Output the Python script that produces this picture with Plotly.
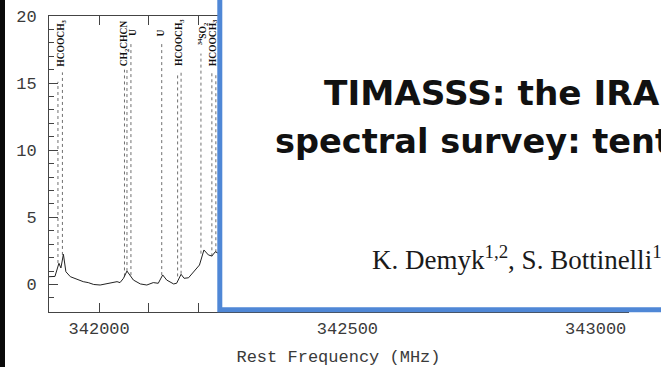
import plotly.graph_objects as go

# ---- data ----
freq = [341899, 341911, 341919, 341923, 341928, 341933, 341942, 341947, 341955,
        341968, 341978, 341989, 342002, 342016, 342029, 342036, 342042, 342049,
        342056, 342062, 342069, 342083, 342096, 342109, 342119, 342128, 342136,
        342150, 342156, 342165, 342171, 342180, 342190, 342202, 342211, 342220,
        342227, 342234, 342240, 342250]
intensity = [0.58, 0.60, 1.58, 1.23, 2.25, 0.95, 0.58, 0.50, 0.39,
             0.21, 0.14, 0.00, -0.04, 0.04, 0.14, 0.21, 0.14, 0.46,
             1.00, 0.70, 0.33, 0.04, -0.04, 0.14, 0.09, 0.71, 0.33,
             0.04, 0.09, 0.76, 0.46, 0.50, 0.95, 1.45, 2.57, 2.20,
             2.12, 2.44, 2.32, 2.30]

line_freqs = [341917, 341926, 342051, 342056, 342064, 342126, 342158, 342165, 342205, 342227, 342235]
line_tops = [15.1, 15.8, 16.0, 16.0, 18.0, 18.1, 15.8, 15.8, 17.2, 15.8, 15.8]
line_bottoms = [1.6, 2.2, 0.6, 1.0, 0.7, 0.7, 0.6, 0.8, 2.3, 2.1, 2.4]

label_texts = ["HCOOCH<sub>3</sub>", "CH<sub>2</sub>CHCN", "U", "U", "HCOOCH<sub>3</sub>",
               "<sup>34</sup>SO<sub>2</sub>", "HCOOCH<sub>3</sub>"]
label_freqs = [341925, 342050, 342068, 342125, 342163, 342207, 342230]
label_bases = [16.1, 16.1, 18.4, 18.3, 16.1, 17.7, 16.1]

x_tick_step = 500
y_tick_step = 5

title_line1 = "TIMASSS: the IRAS16293-2422 millimeter and submillimeter"
title_line2 = "spectral survey: tentative detection of deuterated methyl formate"
authors = "K. Demyk<sup>1,2</sup>, S. Bottinelli<sup>1</sup>, E. Caux<sup>1</sup>, C. Vastel<sup>1</sup>"
x_title = "Rest Frequency (MHz)"

# ---- figure ----
W, H = 661, 367
ML, MR, MT, MB = 49, 33, 16, 55
PW, PH = W - ML - MR, H - MT - MB


def px(xp):
    return (xp - ML) / PW


def py(yp):
    return (H - MB - yp) / PH


fig = go.Figure()

# dotted line markers
lx, ly = [], []
for f, t, b in zip(line_freqs, line_tops, line_bottoms):
    lx += [f, f, None]
    ly += [b, t, None]
fig.add_trace(go.Scatter(x=lx, y=ly, mode="lines",
                         line=dict(color="#707070", width=1, dash="dot"),
                         hoverinfo="skip", showlegend=False))

fig.add_trace(go.Scatter(x=freq, y=intensity, mode="lines",
                         line=dict(color="#222222", width=1),
                         showlegend=False))

for t, f, b in zip(label_texts, label_freqs, label_bases):
    fig.add_annotation(x=f, y=b, xref="x", yref="y", text=t, textangle=-90,
                       showarrow=False, xanchor="center", yanchor="bottom",
                       font=dict(family="Liberation Serif", size=9.5, color="#111111",
                                 weight="bold"))

axis_font = dict(family="Liberation Mono", size=17, color="#3a3a3a")

fig.update_xaxes(range=[341899, 343065], tick0=342000, dtick=x_tick_step,
                 tickformat="d", automargin=False,
                 ticks="inside", ticklen=9, tickcolor="#444", showline=True,
                 linecolor="#444", linewidth=1, mirror="ticks", showgrid=False,
                 zeroline=False, tickfont=axis_font, ticklabelstandoff=1,
                 minor=dict(dtick=100, tick0=342000, ticks="inside", ticklen=9, tickcolor="#444"),
                 title=dict(text=x_title, font=axis_font, standoff=14))
fig.update_yaxes(range=[-2.05, 20.0], tick0=0, dtick=y_tick_step,
                 tickformat="d", automargin=False,
                 ticks="inside", ticklen=9, tickcolor="#444", showline=True,
                 linecolor="#444", linewidth=1, mirror="ticks", showgrid=False,
                 zeroline=False, tickfont=axis_font, ticklabelstandoff=8,
                 minor=dict(dtick=1, ticks="inside", ticklen=5, tickcolor="#444"))

# overlay slide panel and dark photo edge
fig.add_shape(type="rect", xref="paper", yref="paper",
              x0=px(219.8), x1=px(700), y0=py(309.8), y1=py(-40),
              fillcolor="white", line=dict(color="#4f87d6", width=5), layer="above")
fig.add_shape(type="rect", xref="paper", yref="paper",
              x0=px(-20), x1=px(5), y0=py(400), y1=py(-20),
              fillcolor="#0a0a0a", line=dict(width=0), layer="above")

fig.add_annotation(xref="paper", yref="paper", x=px(322), y=py(93), text=title_line1,
                   showarrow=False, xanchor="left", yanchor="middle",
                   font=dict(family="DejaVu Sans", size=34.3, color="#111111", weight="bold"))
fig.add_annotation(xref="paper", yref="paper", x=px(273), y=py(141), text=title_line2,
                   showarrow=False, xanchor="left", yanchor="middle",
                   font=dict(family="DejaVu Sans", size=33.6, color="#111111", weight="bold"))
fig.add_annotation(xref="paper", yref="paper", x=px(370), y=py(258), text=authors,
                   showarrow=False, xanchor="left", yanchor="middle",
                   font=dict(family="Liberation Serif", size=27, color="#1a1a1a"))

fig.update_layout(width=W, height=H, margin=dict(l=ML, r=MR, t=MT, b=MB),
                  paper_bgcolor="white", plot_bgcolor="white", showlegend=False)

fig.write_html("out.html", config={"displayModeBar": False},
               post_script="document.body.style.margin='0';document.body.style.overflow='hidden';")
